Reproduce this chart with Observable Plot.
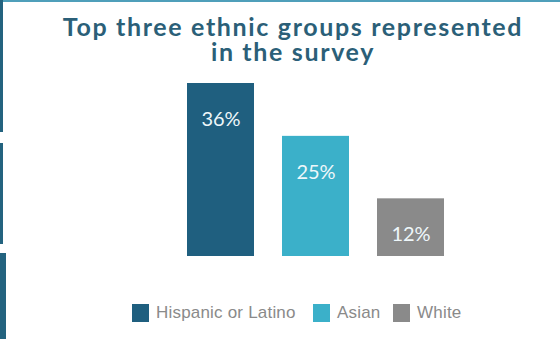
<!DOCTYPE html>
<html>
<head>
<meta charset="utf-8">
<script src="https://cdn.jsdelivr.net/npm/d3@7"></script>
<script src="https://cdn.jsdelivr.net/npm/@observablehq/plot@0.6"></script>
<style>
  html, body { margin: 0; padding: 0; background: #ffffff; }
  #wrap { position: relative; width: 560px; height: 339px; overflow: hidden; background: #fff; }
  .title { position: absolute; left: 0; width: 586px; text-align: center;
    font-family: Lato, sans-serif; font-weight: 700; font-size: 25px; line-height: 22px;
    color: #2b5f78; letter-spacing: 1.65px; white-space: nowrap; }
  #chart { position: absolute; left: 0; top: 70px; }
  #legend { position: absolute; left: 0; top: 304px; width: 560px; height: 20px; }
  .deco { position: absolute; background: #23637f; }
</style>
</head>
<body>
<div id="wrap">
  <div class="deco" style="left:0;top:0;width:560px;height:2px;background:#4f9fba"></div>
  <div class="deco" style="left:0;top:0;width:3px;height:132px"></div>
  <div class="deco" style="left:0;top:143px;width:3px;height:101px"></div>
  <div class="deco" style="left:0;top:253px;width:6px;height:86px"></div>
  <div class="title" style="top:15px">Top three ethnic groups represented</div>
  <div class="title" style="top:40px">in the survey</div>
  <div id="chart"></div>
  <div id="legend"></div>
</div>
<script>
const categories = ["Hispanic or Latino", "Asian", "White"];
const values = [36, 25, 12];
const colors = ["#1f5f7f", "#3bb0c9", "#8a8a8a"];
const labels = ["36%", "25%", "12%"];

const data = categories.map((c, i) => ({category: c, value: values[i], label: labels[i]}));

const plot = Plot.plot({
  width: 560,
  height: 220,
  marginTop: 13,
  marginBottom: 34,
  marginLeft: 173,
  marginRight: 102,
  x: {domain: categories, paddingInner: 0.3, paddingOuter: 0.15, axis: null},
  y: {domain: [0, 36], axis: null},
  color: {domain: categories, range: colors},
  style: {background: "transparent"},
  marks: [
    Plot.barY(data, {x: "category", y: "value", fill: "category"}),
    Plot.text(data, {x: "category", y: "value", text: "label", dy: 36,
      fill: "#eef7fa", fontSize: 20, fontFamily: "Lato, sans-serif", lineAnchor: "middle"})
  ]
});
document.getElementById("chart").appendChild(plot);

// Legend built from the color scale
const scale = plot.scale("color");
const legendX = [132, 313, 393];
const leg = document.getElementById("legend");
scale.domain.forEach((d, i) => {
  const sw = document.createElement("div");
  sw.style.cssText = `position:absolute;left:${legendX[i]}px;top:0;width:17px;height:18px;background:${scale.range[i]}`;
  leg.appendChild(sw);
  const t = document.createElement("div");
  t.textContent = d;
  t.style.cssText = `position:absolute;left:${legendX[i] + 24}px;top:0;font-family:'Liberation Sans',Arial,sans-serif;font-size:17px;line-height:18px;letter-spacing:0.2px;color:#8a8a8a;white-space:nowrap`;
  leg.appendChild(t);
});
</script>
</body>
</html>
